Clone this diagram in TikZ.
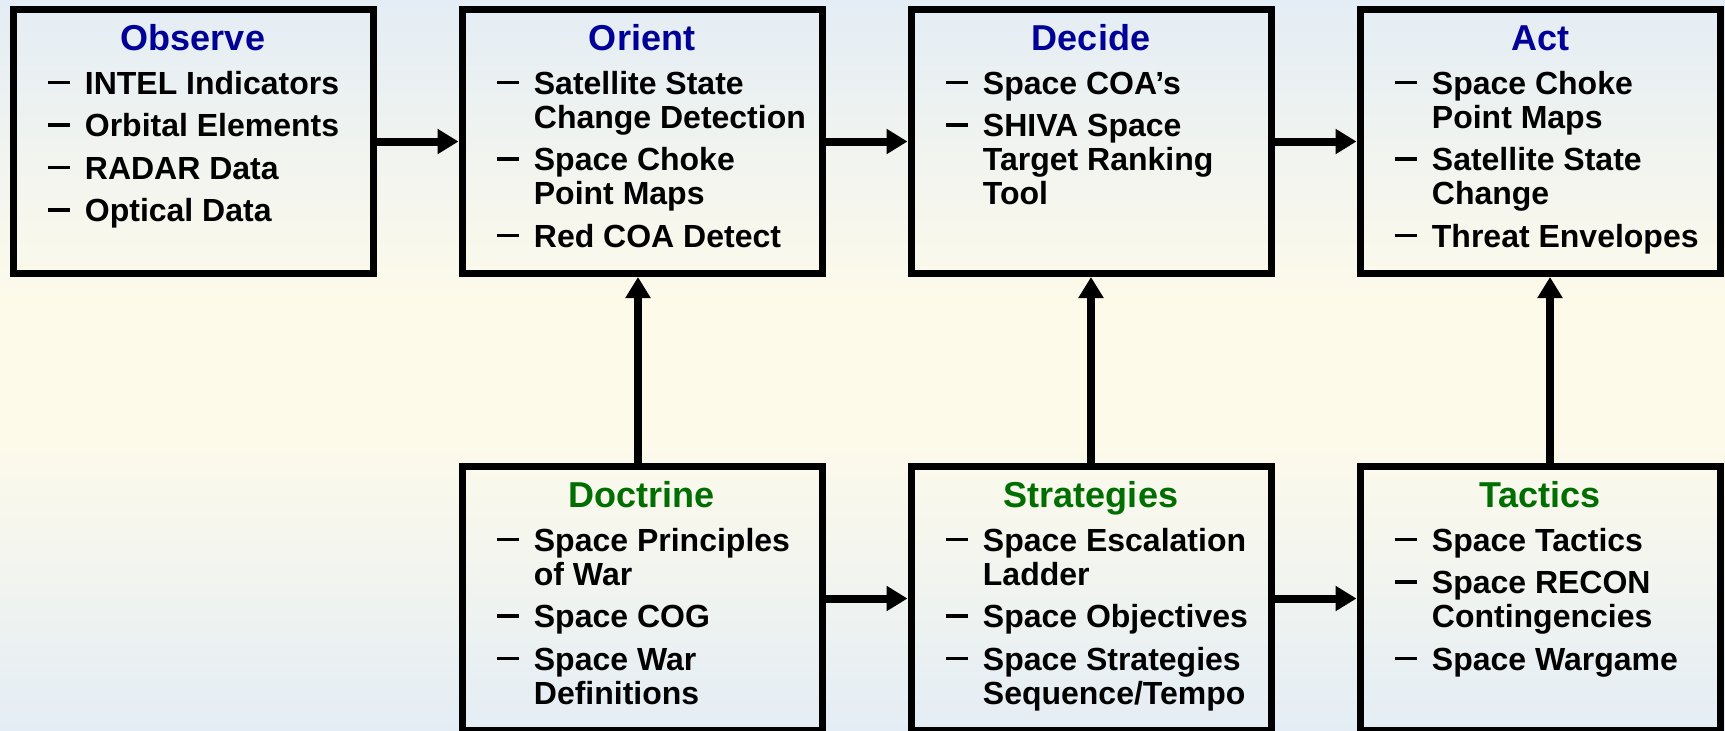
\documentclass[tikz,border=0pt]{standalone}
\usepackage{fontspec}
\setmainfont{Liberation Sans}
\usepackage{xcolor}
\usetikzlibrary{arrows.meta, positioning, calc}

\definecolor{bgblue}{RGB}{228,237,245}
\definecolor{bgcream}{RGB}{253,250,234}
\definecolor{ttlblue}{RGB}{0,0,153}
\definecolor{ttlgreen}{RGB}{0,110,0}
\newcommand{\dsh}{\makebox[18.5pt][l]{\rule[5.2pt]{11pt}{1.6pt}}}
\newcommand{\ind}{\hspace*{18.5pt}}

\begin{document}
\begin{tikzpicture}[x=0.5pt, y=-0.5pt,
			box/.style={draw=black, line width=3.5pt, minimum width=180pt, minimum height=132pt, inner sep=0pt},
			ttl/.style={font=\bfseries\fontsize{18}{20}\selectfont, anchor=base, inner sep=0pt},
			lst/.style={font=\bfseries\fontsize{16}{17}\selectfont, align=left, anchor=north west, inner sep=0pt},
			arr/.style={line width=4pt, -{Triangle[length=10.5pt, width=12pt]}},
			node distance=93pt and 41pt
			]
			% background
			\shade[top color=bgblue, bottom color=bgcream] (0,0) rectangle (1725,300.5);
			\fill[bgcream] (0,300) rectangle (1725,440);
			\shade[top color=bgcream, bottom color=bgblue] (0,439.5) rectangle (1725,730);
			\useasboundingbox (0,0) rectangle (1725,730);
			\def\st{\rule{0pt}{13pt}}
			% boxes
			\node[box] (obs) at (193,141.5) {};
			\node[box, right=of obs] (ori) {};
			\node[box, right=of ori] (dec) {};
			\node[box, right=of dec] (act) {};
			\node[box, below=of ori] (doc) {};
			\node[box, right=of doc] (strat) {};
			\node[box, right=of strat] (tac) {};
			% titles
			\node[ttl, ttlblue] (obs-t) at ([yshift=-22pt]obs.north) {Observe};
			\node[ttl, ttlblue] (ori-t) at ([yshift=-22pt]ori.north) {Orient};
			\node[ttl, ttlblue] (dec-t) at ([yshift=-22pt]dec.north) {Decide};
			\node[ttl, ttlblue] (act-t) at ([yshift=-22pt]act.north) {Act};
			\node[ttl, ttlgreen] (doc-t) at ([yshift=-22pt]doc.north) {Doctrine};
			\node[ttl, ttlgreen] (strat-t) at ([yshift=-22pt]strat.north) {Strategies};
			\node[ttl, ttlgreen] (tac-t) at ([yshift=-22pt]tac.north) {Tactics};
			% lists
			\node[lst] (obs-l) at ([xshift=19pt, yshift=-31pt]obs.north west) {\st\dsh INTEL Indicators\\[4.25pt]\dsh Orbital Elements\\[4.25pt]\dsh RADAR Data\\[4.25pt]\dsh Optical Data};
			\node[lst] (ori-l) at ([xshift=19pt, yshift=-31pt]ori.north west) {\st\dsh Satellite State\\\ind Change Detection\\[4.25pt]\dsh Space Choke\\\ind Point Maps\\[4.25pt]\dsh Red COA Detect};
			\node[lst] (dec-l) at ([xshift=19pt, yshift=-31pt]dec.north west) {\st\dsh Space COA’s\\[4.25pt]\dsh SHIVA Space\\\ind Target Ranking\\\ind Tool};
			\node[lst] (act-l) at ([xshift=19pt, yshift=-31pt]act.north west) {\st\dsh Space Choke\\\ind Point Maps\\[4.25pt]\dsh Satellite State\\\ind Change\\[4.25pt]\dsh Threat Envelopes};
			\node[lst] (doc-l) at ([xshift=19pt, yshift=-31pt]doc.north west) {\st\dsh Space Principles\\\ind of War\\[4.25pt]\dsh Space COG\\[4.25pt]\dsh Space War\\\ind Definitions};
			\node[lst] (strat-l) at ([xshift=19pt, yshift=-31pt]strat.north west) {\st\dsh Space Escalation\\\ind Ladder\\[4.25pt]\dsh Space Objectives\\[4.25pt]\dsh Space Strategies\\\ind Sequence/Tempo};
			\node[lst] (tac-l) at ([xshift=19pt, yshift=-31pt]tac.north west) {\st\dsh Space Tactics\\[4.25pt]\dsh Space RECON\\\ind Contingencies\\[4.25pt]\dsh Space Wargame};
			% arrows
			\foreach \a/\b in {obs/ori, ori/dec, dec/act, doc/strat, strat/tac}{
				\draw[arr] (\a) -- (\b);
			}
			\draw[arr] ([xshift=-2pt]doc.north) -- ([xshift=-2pt]ori.south);
			\draw[arr] (strat) -- (dec);
			\draw[arr] ([xshift=5pt]tac.north) -- ([xshift=5pt]act.south);
		\end{tikzpicture}
\end{document}
